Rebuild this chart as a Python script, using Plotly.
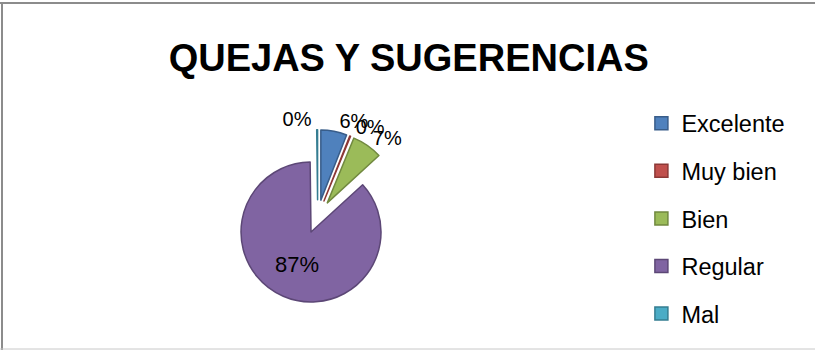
import plotly.graph_objects as go

categories = ["Excelente", "Muy bien", "Bien", "Regular", "Mal"]
values = [6.0, 0.2, 7.0, 86.6, 0.2]
title_text = "QUEJAS Y SUGERENCIAS"

fill_colors = ["#4F81BD", "#C0504D", "#9BBB59", "#8064A2", "#4BACC6"]
line_colors = ["#385D8A", "#8C3836", "#71893F", "#5C4776", "#357D91"]

FONT = "Liberation Sans, Arial, sans-serif"
DOMAIN = dict(x=[0.2833, 0.4963], y=[0.1331, 0.6291])
PULL = 0.24

# Each label layer is its own pie with the same values/geometry, so plotly
# does not push neighbouring outside labels apart (as in the original chart).
label_layers = [
    ["none", "none", "outside", "inside", "outside"],      # visible pie
    ["outside", "none", "none", "none", "none"],           # Excelente label
    ["none", "outside", "none", "none", "none"],           # Muy bien label
]

fig = go.Figure()
for k, tpos in enumerate(label_layers):
    visible_slices = (k == 0)
    fig.add_trace(go.Pie(
        labels=categories,
        values=values,
        sort=False,
        direction="clockwise",
        rotation=0,
        pull=PULL,
        marker=dict(
            colors=fill_colors if visible_slices else ["rgba(0,0,0,0)"] * len(values),
            line=dict(color=line_colors if visible_slices else "rgba(0,0,0,0)",
                      width=1.5 if visible_slices else 0),
        ),
        texttemplate="%{percent:.0%}",
        textposition=tpos,
        insidetextorientation="horizontal",
        textfont=dict(family=FONT, size=22, color="black"),
        insidetextfont=dict(family=FONT, size=22, color="black"),
        outsidetextfont=dict(family=FONT, size=20, color="black"),
        showlegend=False,
        hoverinfo="label+percent" if visible_slices else "skip",
        domain=DOMAIN,
    ))

# legend proxies (one per category) so the rows can be spaced like the original
for i, (cat, fc, lc) in enumerate(zip(categories, fill_colors, line_colors)):
    fig.add_trace(go.Scatter(
        x=[None], y=[None], mode="markers", name=cat,
        legendgroup=f"g{i}",
        marker=dict(symbol="square", size=13, color=fc, line=dict(color=lc, width=1.5)),
    ))

fig.update_layout(
    width=815, height=350,
    margin=dict(l=0, r=0, t=0, b=0),
    paper_bgcolor="white", plot_bgcolor="white",
    font=dict(family=FONT, color="black"),
    title=dict(text=f"<b>{title_text}</b>", x=0.5015, xanchor="center",
               y=0.835, yanchor="middle", font=dict(family=FONT, size=38, color="black")),
    xaxis=dict(visible=False), yaxis=dict(visible=False),
    legend=dict(x=0.787, xanchor="left", y=0.71, yanchor="top",
                font=dict(family=FONT, size=23.5, color="black"),
                traceorder="grouped", tracegroupgap=14, bgcolor="rgba(0,0,0,0)"),
    shapes=[
        dict(type="line", xref="paper", yref="paper", x0=0, x1=1, y0=1 - 3 / 350, y1=1 - 3 / 350,
             line=dict(color="#8C8C8C", width=2)),
        dict(type="line", xref="paper", yref="paper", x0=2 / 815, x1=2 / 815, y0=0, y1=1 - 2 / 350,
             line=dict(color="#8C8C8C", width=2)),
        dict(type="line", xref="paper", yref="paper", x0=0, x1=1, y0=1 / 350, y1=1 / 350,
             line=dict(color="#C8C8C8", width=1)),
    ],
)

fig.write_html("out.html")
